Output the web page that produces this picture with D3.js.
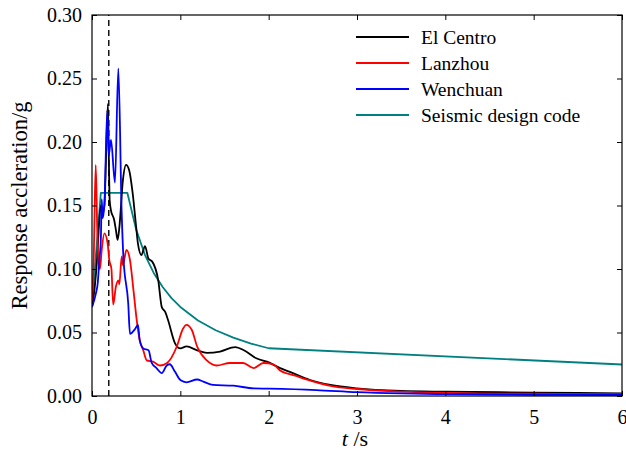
<!DOCTYPE html>
<html><head>
<meta charset="utf-8">
<script src="https://d3js.org/d3.v7.min.js"></script>
<style>
  body { margin: 0; background: #fff; }
  svg text { font-family: "Times New Roman", "Liberation Serif", Times, serif; fill: #000; }
  .axis .domain { display: none; }
  .axis line { stroke: #000; stroke-width: 1; }
</style>
</head>
<body>
<svg id="chart" width="626" height="452" font-family="'Liberation Serif', serif"></svg>
<script>
  // ---- data (period t in s, response acceleration in g)
  const elCentroT = [0, 0.03, 0.06, 0.08, 0.10, 0.12, 0.14, 0.16, 0.18, 0.19, 0.20, 0.215, 0.25, 0.27, 0.29, 0.31, 0.35, 0.385, 0.42, 0.46, 0.50, 0.52, 0.56, 0.60, 0.64, 0.68, 0.75, 0.79, 0.83, 0.86, 0.94, 1.0, 1.07, 1.19, 1.30, 1.45, 1.62, 1.72, 1.86, 1.98, 2.13, 2.24, 2.47, 2.7, 3.0, 3.5, 4.0, 5.0, 6.0];
  const elCentroA = [0.07, 0.085, 0.11, 0.135, 0.15, 0.145, 0.15, 0.19, 0.23, 0.19, 0.154, 0.146, 0.139, 0.131, 0.123, 0.133, 0.17, 0.182, 0.178, 0.16, 0.133, 0.120, 0.111, 0.118, 0.108, 0.106, 0.091, 0.070, 0.066, 0.060, 0.0415, 0.0375, 0.039, 0.036, 0.034, 0.035, 0.0385, 0.036, 0.0297, 0.027, 0.022, 0.019, 0.0126, 0.0087, 0.006, 0.004, 0.0034, 0.0027, 0.002];

  const lanzhouT = [0, 0.02, 0.042, 0.06, 0.075, 0.09, 0.11, 0.14, 0.177, 0.196, 0.22, 0.24, 0.27, 0.30, 0.31, 0.336, 0.35, 0.39, 0.43, 0.47, 0.506, 0.54, 0.58, 0.62, 0.69, 0.77, 0.85, 0.96, 1.03, 1.07, 1.13, 1.19, 1.30, 1.41, 1.56, 1.71, 1.83, 1.94, 2.05, 2.13, 2.3, 2.5, 2.7, 3.0, 3.5, 4.0, 5.0, 6.0];
  const lanzhouA = [0.075, 0.11, 0.182, 0.13, 0.105, 0.10, 0.115, 0.128, 0.12, 0.107, 0.100, 0.072, 0.086, 0.091, 0.088, 0.110, 0.103, 0.115, 0.107, 0.083, 0.060, 0.044, 0.036, 0.028, 0.027, 0.024, 0.026, 0.039, 0.053, 0.056, 0.052, 0.039, 0.028, 0.024, 0.026, 0.026, 0.022, 0.026, 0.025, 0.020, 0.016, 0.0115, 0.008, 0.0055, 0.0035, 0.0025, 0.0018, 0.0014];

  const wenchuanT = [0, 0.045, 0.065, 0.083, 0.10, 0.11, 0.12, 0.14, 0.173, 0.19, 0.215, 0.26, 0.298, 0.336, 0.355, 0.41, 0.43, 0.49, 0.52, 0.54, 0.58, 0.64, 0.676, 0.73, 0.79, 0.846, 0.88, 0.94, 1.0, 1.07, 1.19, 1.26, 1.37, 1.6, 1.83, 2.0, 2.54, 3.0, 3.5, 4.0, 5.0, 6.0];
  const wenchuanA = [0.07, 0.081, 0.089, 0.107, 0.123, 0.155, 0.14, 0.15, 0.225, 0.19, 0.2016, 0.168, 0.258, 0.144, 0.11, 0.073, 0.049, 0.053, 0.056, 0.044, 0.0375, 0.036, 0.026, 0.022, 0.018, 0.024, 0.025, 0.019, 0.0126, 0.0108, 0.013, 0.0113, 0.0087, 0.0081, 0.006, 0.0058, 0.0047, 0.003, 0.002, 0.0015, 0.001, 0.0008];

  const codeT = [0, 0.1, 0.4, 0.5, 0.6, 0.7, 0.8, 0.9, 1.0, 1.2, 1.4, 1.6, 1.8, 2.0, 6.0];
  const codeA = [0.072, 0.16, 0.16, 0.131, 0.111, 0.0967, 0.0858, 0.0771, 0.0701, 0.0595, 0.0518, 0.046, 0.0413, 0.0376, 0.0248];

  const seriesNames = ["El Centro", "Lanzhou", "Wenchuan", "Seismic design code"];
  const seriesColors = ["#000000", "#ff0000", "#0000ff", "#008080"];
  const markerPeriod = 0.19;   // dashed vertical line

  const xTicks = [0, 1, 2, 3, 4, 5, 6];
  const yTicks = [0, 0.05, 0.10, 0.15, 0.20, 0.25, 0.30];

  // ---- layout
  const svg = d3.select("svg#chart");
  const margins = {"top": 15, "right": 4, "bottom": 56, "left": 92};
  const chartWidth = 626 - margins.left - margins.right;
  const chartHeight = 452 - margins.top - margins.bottom;

  const x = d3.scaleLinear().domain([0, 6]).range([0, chartWidth]);
  const y = d3.scaleLinear().domain([0, 0.30]).range([chartHeight, 0]);

  const plot = svg.append("g").attr("transform", "translate(" + margins.left + "," + margins.top + ")");

  plot.append("clipPath").attr("id", "clip")
      .append("rect").attr("width", chartWidth).attr("height", chartHeight);

  // dashed marker line
  plot.append("line")
      .attr("x1", x(markerPeriod)).attr("x2", x(markerPeriod))
      .attr("y1", y(0)).attr("y2", y(0.30))
      .attr("stroke", "#000").attr("stroke-width", 1.4)
      .attr("stroke-dasharray", "6,4");

  const series = [
    {t: codeT, a: codeA, curve: d3.curveLinear},
    {t: elCentroT, a: elCentroA, curve: d3.curveMonotoneX},
    {t: lanzhouT, a: lanzhouA, curve: d3.curveMonotoneX},
    {t: wenchuanT, a: wenchuanA, curve: d3.curveMonotoneX}
  ];
  const colorOf = [seriesColors[3], seriesColors[0], seriesColors[1], seriesColors[2]];

  series.forEach((s, i) => {
    const pts = s.t.map((t, j) => [t, s.a[j]]);
    const line = d3.line().x(d => x(d[0])).y(d => y(d[1])).curve(s.curve);
    plot.append("path")
        .attr("clip-path", "url(#clip)")
        .attr("d", line(pts))
        .attr("fill", "none")
        .attr("stroke", colorOf[i])
        .attr("stroke-width", 1.8)
        .attr("stroke-linejoin", "round");
  });

  // ---- axes, ticks pointing inward on all four sides
  plot.append("g").attr("class", "axis")
      .attr("transform", "translate(0," + chartHeight + ")")
      .call(d3.axisBottom(x).tickValues(xTicks).tickSize(-5).tickPadding(14).tickFormat(d3.format("d")))
      .selectAll("text").attr("font-size", 20);

  plot.append("g").attr("class", "axis")
      .call(d3.axisTop(x).tickValues(xTicks).tickSize(-5).tickFormat(""));

  plot.append("g").attr("class", "axis")
      .call(d3.axisLeft(y).tickValues(yTicks).tickSize(-5).tickPadding(10).tickFormat(d3.format(".2f")))
      .selectAll("text").attr("font-size", 20);

  plot.append("g").attr("class", "axis")
      .attr("transform", "translate(" + chartWidth + ",0)")
      .call(d3.axisRight(y).tickValues(yTicks).tickSize(-5).tickFormat(""));

  // frame
  plot.append("rect")
      .attr("width", chartWidth).attr("height", chartHeight)
      .attr("fill", "none").attr("stroke", "#000").attr("stroke-width", 1.2);

  // ---- axis titles
  const xTitle = svg.append("text")
      .attr("x", margins.left + x(3) - 2).attr("y", 446)
      .attr("text-anchor", "middle").attr("font-size", 22);
  xTitle.append("tspan").attr("font-style", "italic").text("t");
  xTitle.append("tspan").text(" /s");

  svg.append("text")
      .attr("transform", "translate(27," + (margins.top + chartHeight / 2) + ") rotate(-90)")
      .attr("text-anchor", "middle").attr("font-size", 22.5)
      .text("Response accleration/g");

  // ---- legend
  const legend = svg.append("g").attr("transform", "translate(356,37)");
  seriesNames.forEach((name, i) => {
    const row = legend.append("g").attr("transform", "translate(0," + (i * 26) + ")");
    row.append("line").attr("x1", 0).attr("x2", 53).attr("y1", 0).attr("y2", 0)
       .attr("stroke", seriesColors[i]).attr("stroke-width", 1.8);
    row.append("text").attr("x", 65).attr("y", 6.5).attr("font-size", 19.5).text(name);
  });
</script>
</body>
</html>
